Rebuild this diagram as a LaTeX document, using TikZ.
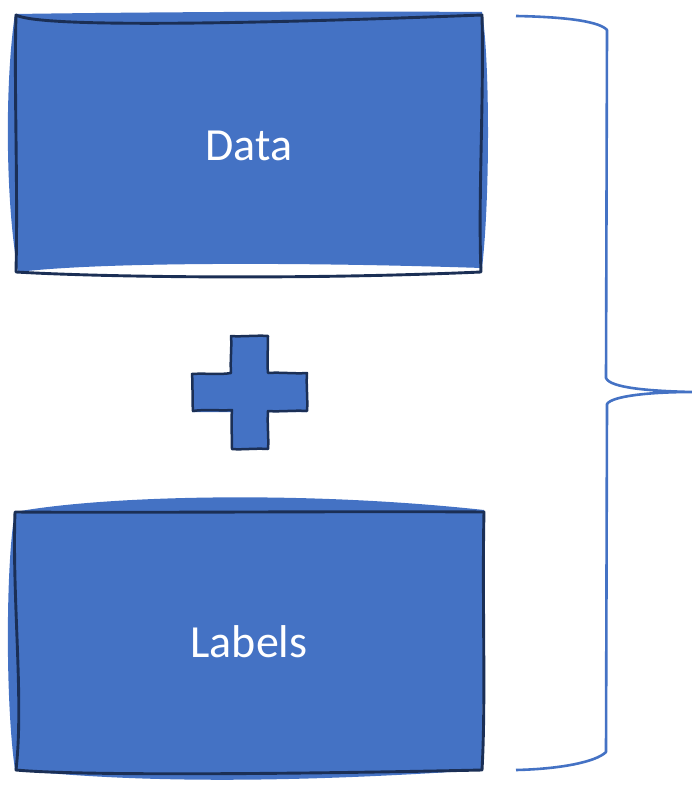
\documentclass[tikz,border=0pt]{standalone}
\usepackage{fontspec}
\setmainfont{Carlito}
\definecolor{boxfill}{HTML}{4472C4}
\definecolor{boxline}{HTML}{1B2F55}
\tikzset{
  sketchfill/.style={fill=boxfill, draw=none},
  sketchline/.style={draw=boxline, line width=2.9pt, line join=round, line cap=round},
  bracestyle/.style={draw=boxfill, line width=2.6pt, line join=round},
  boxtext/.style={text=white, font=\fontsize{46}{50}\selectfont}
}
\begin{document}
\begin{tikzpicture}[x=1pt, y=-1pt]
\useasboundingbox (0,0) rectangle (692,786);

% Data box: hand-drawn fill and outline
\path[sketchfill] (15,14) .. controls (150,12) and (350,11) .. (482,12)
  .. controls (490,60) and (490,200) .. (482,268)
  .. controls (300,262) and (100,262) .. (18,272)
  .. controls (5,200) and (5,80) .. (15,14) -- cycle;
\draw[sketchline] (16,15) .. controls (40,28) and (250,24) .. (482,15)
  .. controls (484,100) and (478,200) .. (481,272)
  .. controls (300,280) and (100,277) .. (16,272)
  .. controls (18,180) and (14,90) .. (16,15);
\node[boxtext] (data) at (249,146) {Data};

% Plus sign
\path[sketchfill] (231,336) -- (268,336) -- (268,373) -- (307,373) -- (307,412)
  -- (268,412) -- (268,449) -- (231,449) -- (231,412) -- (192,412) -- (192,373)
  -- (231,373) -- cycle;
\draw[sketchline, line width=2.5pt] (231,336) .. controls (240,337) and (258,335) .. (268,336)
  .. controls (268,350) and (267,362) .. (268,373)
  .. controls (280,372) and (295,374) .. (307,373)
  .. controls (306,385) and (308,400) .. (307,411)
  .. controls (295,410) and (280,412) .. (268,411)
  .. controls (267,425) and (269,438) .. (268,449)
  .. controls (255,448) and (242,450) .. (232,449)
  .. controls (232,435) and (231,422) .. (232,410)
  .. controls (220,411) and (205,409) .. (193,411)
  .. controls (192,398) and (193,385) .. (192,374)
  .. controls (205,373) and (220,375) .. (231,373)
  .. controls (230,360) and (232,348) .. (231,336) -- cycle;

% Labels box: hand-drawn fill and outline
\path[sketchfill] (15,512) .. controls (100,496) and (300,490) .. (484,510)
  .. controls (486,600) and (482,700) .. (482,770)
  .. controls (300,782) and (150,784) .. (15,770)
  .. controls (5,700) and (6,560) .. (15,512) -- cycle;
\draw[sketchline] (15,512) .. controls (150,513) and (350,511) .. (484,512)
  .. controls (482,600) and (486,700) .. (482,770)
  .. controls (300,774) and (80,776) .. (16,770)
  .. controls (24,700) and (12,600) .. (15,512);
\node[boxtext] (labels) at (249,642) {Labels};

% Right curly brace spanning both boxes
\coordinate (bt) at (516,16);
\coordinate (bm) at (692,392);
\coordinate (bb) at (516,770);
\draw[bracestyle] (bt) .. controls (570,17) and (600,22) .. (607,30)
  -- (606,378) .. controls (610,388) and (650,391) .. (bm)
  .. controls (650,392) and (612,396) .. (607,404)
  -- (606,752) .. controls (596,762) and (560,769) .. (bb);
\end{tikzpicture}
\end{document}
